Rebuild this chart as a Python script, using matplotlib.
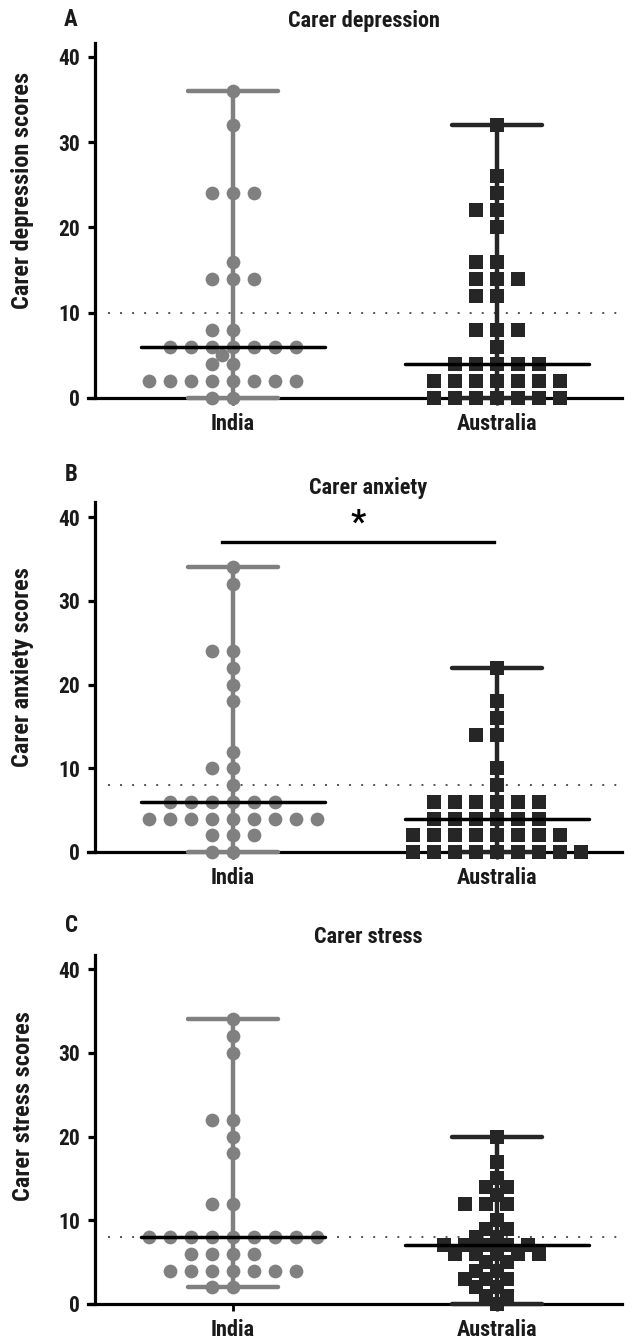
import numpy as np
import matplotlib
matplotlib.use("Agg")
import matplotlib.pyplot as plt
from matplotlib import font_manager as fm

# ---------------- data ----------------
groups = ["India", "Australia"]
titles = ["Carer depression", "Carer anxiety", "Carer stress"]
ylabels = ["Carer depression scores", "Carer anxiety scores", "Carer stress scores"]
panel_letters = ["A", "B", "C"]
cutoffs = [10, 8, 8]
yticks = [0, 10, 20, 30, 40]

india_depression = [36, 32, 24, 24, 24, 16, 14, 14, 14, 8, 8, 6, 6, 6, 6, 6, 6, 6, 5,
                    4, 4, 2, 2, 2, 2, 2, 2, 2, 2, 0, 0]
australia_depression = [32, 26, 24, 22, 22, 20, 16, 16, 14, 14, 14, 12, 12, 8, 8, 8, 6,
                        4, 4, 4, 4, 4, 2, 2, 2, 2, 2, 2, 2, 0, 0, 0, 0, 0, 0, 0]
india_anxiety = [34, 32, 24, 24, 22, 20, 18, 12, 10, 10, 8, 6, 6, 6, 6, 6, 6,
                 4, 4, 4, 4, 4, 4, 4, 4, 4, 2, 2, 2, 0, 0]
australia_anxiety = [22, 18, 16, 14, 14, 10, 8, 6, 6, 6, 6, 6, 6, 4, 4, 4, 4, 4, 4,
                     2, 2, 2, 2, 2, 2, 2, 2, 0, 0, 0, 0, 0, 0, 0, 0, 0]
india_stress = [34, 32, 30, 22, 22, 20, 18, 12, 12, 8, 8, 8, 8, 8, 8, 8, 8, 8,
                6, 6, 6, 6, 4, 4, 4, 4, 4, 4, 4, 2, 2]
australia_stress = [20, 17, 15, 14, 14, 13, 12, 12, 12, 10, 9, 9, 8, 8, 7, 7, 7, 7, 7,
                    6, 6, 6, 6, 6, 5, 5, 4, 4, 3, 3, 3, 2, 2, 1, 1, 0]
significance = [None, "*", None]

panels = [
    (india_depression, australia_depression),
    (india_anxiety, australia_anxiety),
    (india_stress, australia_stress),
]

# ---------------- fonts ----------------
available = {f.name for f in fm.fontManager.ttflist}
FONT = "DejaVu Sans"
for cand in ["Roboto Condensed", "Archivo Narrow", "PT Sans Narrow",
             "Liberation Sans Narrow", "Barlow Condensed", "Open Sans Condensed"]:
    if cand in available:
        FONT = cand
        break
plt.rcParams["font.family"] = [FONT, "DejaVu Sans"]
plt.rcParams["font.weight"] = "bold"

# ---------------- layout (pixels) ----------------
W, H = 634, 1342
fig = plt.figure(figsize=(W / 100, H / 100), dpi=100)

AX_LEFT, AX_RIGHT = 88, 622
X_INDIA, X_AUS = 233, 497
# (pixel of y=0, pixel of y=40, pixel of spine top)
panel_px = [(398, 57, 43), (852, 517, 502), (1304, 969, 955)]
title_px = [(364, 21), (368, 488), (368, 937)]
letter_px = [(71, 19), (71, 475), (71, 925)]
ylabel_px = [(23, 190), (23, 667), (23, 1106)]

INDIA_COLOR = "#808080"
AUS_COLOR = "#262626"
TEXT_COLOR = "#1a1a1a"

ppx = X_AUS - X_INDIA  # pixels per category unit
xlim = (-(X_INDIA - AX_LEFT) / ppx, 1 + (AX_RIGHT - X_AUS) / ppx)


def swarm_offsets(values, ppu_y, step_px, min_dist):
    """Greedy scatter layout keeping marker centres min_dist pixels apart."""
    placed = []
    offs = []
    cands = [0.0]
    for i in range(1, 40):
        cands += [-i * step_px, i * step_px]
    for v in values:
        y = v * ppu_y
        for c in cands:
            ok = True
            for (px, py) in placed:
                if (c - px) ** 2 + (y - py) ** 2 < min_dist ** 2:
                    ok = False
                    break
            if ok:
                break
        placed.append((c, y))
        offs.append(c / ppx)
    return np.array(offs)


for i, (india, aus) in enumerate(panels):
    y0, y40, ytop = panel_px[i]
    ppu = (y0 - y40) / 40.0
    top_val = (y0 - ytop) / ppu
    ax = fig.add_axes([AX_LEFT / W, 1 - y0 / H, (AX_RIGHT - AX_LEFT) / W, (y0 - ytop) / H])
    ax.set_xlim(*xlim)
    ax.set_ylim(0, top_val)
    ax.patch.set_alpha(0)

    for s in ["top", "right"]:
        ax.spines[s].set_visible(False)
    ax.spines["left"].set_position(("axes", (95 - AX_LEFT) / (AX_RIGHT - AX_LEFT)))
    for s in ["left", "bottom"]:
        ax.spines[s].set_linewidth(2.3)
        ax.spines[s].set_color("black")
        ax.spines[s].set_zorder(2.5)

    ax.set_yticks(yticks)
    ax.set_yticklabels([str(t) for t in yticks])
    ax.set_xticks([0, 1])
    ax.set_xticklabels(groups)
    ax.tick_params(axis="y", length=5, width=2.3, pad=6, labelsize=15.5)
    ax.tick_params(axis="x", length=5, width=2.0, pad=6, labelsize=16)
    for lab in ax.get_yticklabels() + ax.get_xticklabels():
        lab.set_fontweight("bold")
        lab.set_color(TEXT_COLOR)

    # cutoff dotted line
    ax.plot([(108 - X_INDIA) / ppx, xlim[1]], [cutoffs[i], cutoffs[i]],
            linestyle=(0, (1, 5.2)), color="#555555", lw=1.4, zorder=1, clip_on=False)

    for g, (vals, color, marker, ms) in enumerate([
            (india, INDIA_COLOR, "o", 9.9),
            (aus, AUS_COLOR, "s", 10.0)]):
        vals = np.array(vals, dtype=float)
        lo, hi, med = vals.min(), vals.max(), np.median(vals)
        # range (min-max) with caps
        ax.plot([g, g], [lo, hi], color=color, lw=3.2, zorder=3, clip_on=False,
                solid_capstyle="butt")
        for v in (lo, hi):
            ax.plot([g - 0.17, g + 0.17], [v, v], color=color, lw=3.2, zorder=3,
                    clip_on=False, solid_capstyle="round")
        offs = swarm_offsets(vals, ppu, 10.5, 12.0)
        ax.plot(g + offs, vals, linestyle="none", marker=marker, ms=ms,
                mfc=color, mec="none", mew=0, zorder=4, clip_on=False)
        # median
        ax.plot([g - 0.35, g + 0.35], [med, med], color="black", lw=2.5, zorder=5,
                clip_on=False, solid_capstyle="round")

    if significance[i]:
        ybar = 37
        ax.plot([-0.04, 0.99], [ybar, ybar], color="black", lw=2.4, clip_on=False, zorder=5)
        ax.text(0.475, ybar + 1.2, significance[i], ha="center", va="baseline",
                fontsize=24, fontweight="bold", color="black")

    tx, ty = title_px[i]
    fig.text(tx / W, 1 - ty / H, titles[i], ha="center", va="center",
             fontsize=16, fontweight="bold", color=TEXT_COLOR)
    lx, ly = letter_px[i]
    fig.text(lx / W, 1 - ly / H, panel_letters[i], ha="center", va="center",
             fontsize=16.5, fontweight="bold", color=TEXT_COLOR)
    yx, yy = ylabel_px[i]
    fig.text(yx / W, 1 - yy / H, ylabels[i], ha="center", va="center", rotation=90,
             fontsize=17.5, fontweight="bold", color=TEXT_COLOR)

fig.savefig("out.png", dpi=100)
